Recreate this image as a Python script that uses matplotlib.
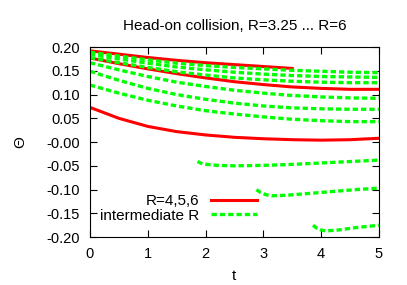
import matplotlib
matplotlib.use("Agg")
from matplotlib import pyplot as plt
import numpy as np

plt.rcParams['font.family'] = ['Liberation Sans', 'DejaVu Sans']

# red curves (R=4,5,6)
t_red1 = [0, 0.5, 1, 1.5, 2, 2.5, 3, 3.5]
red1 = [0.192, 0.185, 0.178, 0.172, 0.167, 0.163, 0.159, 0.155]
t_full = [0, 0.5, 1, 1.5, 2, 2.5, 3, 3.5, 4, 4.5, 5]
red2 = [0.177, 0.165, 0.154, 0.144, 0.135, 0.127, 0.121, 0.116, 0.113, 0.111, 0.111]
red3 = [0.073, 0.050, 0.033, 0.022, 0.015, 0.010, 0.007, 0.005, 0.004, 0.005, 0.008]

# green curves (intermediate R), upper group
green1 = [0.189, 0.181, 0.173, 0.166, 0.161, 0.157, 0.154, 0.151, 0.149, 0.147, 0.146]
green2 = [0.185, 0.175, 0.166, 0.158, 0.152, 0.147, 0.143, 0.140, 0.138, 0.137, 0.136]
green3 = [0.178, 0.167, 0.157, 0.148, 0.141, 0.135, 0.131, 0.128, 0.126, 0.125, 0.125]
green4 = [0.167, 0.152, 0.138, 0.126, 0.117, 0.109, 0.103, 0.098, 0.095, 0.093, 0.092]
green5 = [0.149, 0.130, 0.113, 0.100, 0.090, 0.082, 0.076, 0.072, 0.070, 0.069, 0.069]
green6 = [0.120, 0.103, 0.088, 0.076, 0.066, 0.059, 0.053, 0.048, 0.045, 0.043, 0.043]

# lower green pieces
tA = [1.86, 1.95, 2.2, 2.5, 3, 3.5, 4, 4.5, 5]
gA = [-0.041, -0.046, -0.049, -0.050, -0.049, -0.047, -0.044, -0.041, -0.038]
tB = [2.88, 2.95, 3.05, 3.15, 3.4, 3.8, 4.2, 4.6, 5]
gB = [-0.100, -0.106, -0.111, -0.113, -0.112, -0.108, -0.104, -0.100, -0.097]
tC = [3.86, 3.92, 4.0, 4.08, 4.3, 4.6, 5]
gC = [-0.175, -0.181, -0.185, -0.187, -0.185, -0.180, -0.175]

fig = plt.figure(figsize=(4.07, 2.85), dpi=100)
ax = fig.add_axes([0.221, 0.168, 0.710, 0.667])

red = '#ff0000'
green = '#00ff00'
ls_g = (0, (1.6, 0.9))

ax.plot(t_red1, red1, color=red, lw=2.2, label='R=4,5,6')
ax.plot(t_full, red2, color=red, lw=2.2)
ax.plot(t_full, red3, color=red, lw=2.2)

first = True
for g in [green1, green2, green3, green4, green5, green6]:
    ax.plot(t_full, g, color=green, lw=2.4, ls=ls_g,
            label='intermediate R' if first else None)
    first = False
for tt, gg in [(tA, gA), (tB, gB), (tC, gC)]:
    ax.plot(tt, gg, color=green, lw=2.4, ls=ls_g)

ax.set_xlim(0, 5)
ax.set_ylim(-0.2, 0.2)
ax.set_xticks([0, 1, 2, 3, 4, 5])
ax.set_yticks(np.arange(-0.2, 0.21, 0.05))
ax.set_yticklabels(['%.2f' % v for v in np.arange(-0.2, 0.21, 0.05)])
ax.tick_params(direction='in', top=True, right=True, labelsize=10.5, length=5, pad=7)
ax.set_title('Head-on collision, R=3.25 ... R=6', fontsize=11, pad=12)
ax.set_xlabel('t', fontsize=11, labelpad=6)
ax.set_ylabel('Θ', fontsize=11, labelpad=14)

ax.legend(loc='lower right', bbox_to_anchor=(0.615, 0.02), frameon=False,
          markerfirst=False, fontsize=11, handlelength=3.0, handletextpad=0.8,
          labelspacing=0.05, borderpad=0.2)

fig.savefig('out.png', dpi=100)
